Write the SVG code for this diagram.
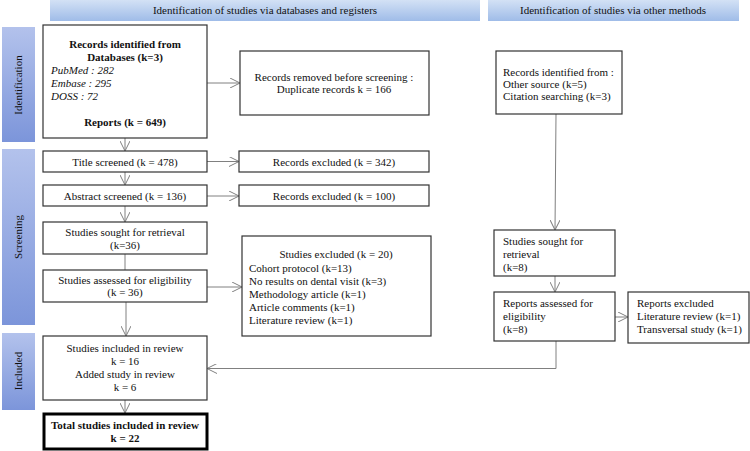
<svg xmlns="http://www.w3.org/2000/svg" width="750" height="451" viewBox="0 0 750 451">
<defs>
<linearGradient id="hdr" x1="0" y1="0" x2="0" y2="1">
<stop offset="0" stop-color="#d3e1f5"/>
<stop offset="1" stop-color="#9fbce8"/>
</linearGradient>
<linearGradient id="side" x1="0" y1="0" x2="0" y2="1">
<stop offset="0" stop-color="#b3c2ec"/>
<stop offset="1" stop-color="#7c95da"/>
</linearGradient>
<marker id="arr" viewBox="0 0 10 10" refX="10" refY="5" markerWidth="10" markerHeight="10" markerUnits="userSpaceOnUse" orient="auto">
<path d="M0,0 L10,5 L0,10" fill="none" stroke="#808080" stroke-width="1"/>
</marker>
<style>
text{font-family:"Liberation Serif","Times New Roman",serif;font-size:11px;fill:#111}
.c{text-anchor:middle}
.b{font-weight:bold}
.i{font-style:italic}
.box{fill:#fff;stroke:#333;stroke-width:1.2}
.thick{fill:#fff;stroke:#000;stroke-width:3}
.ln{fill:none;stroke:#808080;stroke-width:1}
.hd{fill:url(#hdr)}
.sd{fill:url(#side)}
</style>
</defs>
<rect width="750" height="451" fill="#fff"/>

<g id="header-left"><rect class="hd" x="50" y="0" width="430" height="21"/><text class="c" x="265" y="14">Identification of studies via databases and registers</text></g>
<g id="header-right"><rect class="hd" x="488" y="0" width="251" height="21"/><text class="c" x="613" y="14">Identification of studies via other methods</text></g>

<g id="side-identification"><rect class="sd" x="2" y="27" width="33" height="115"/><text class="c" transform="translate(22,85) rotate(-90)">Identification</text></g>
<g id="side-screening"><rect class="sd" x="2" y="149" width="33" height="176"/><text class="c" transform="translate(22,237) rotate(-90)">Screening</text></g>
<g id="side-included"><rect class="sd" x="2" y="333" width="33" height="77"/><text class="c" transform="translate(22,371) rotate(-90)">Included</text></g>

<g id="connectors">
<line class="ln" x1="207" y1="83" x2="240" y2="83" marker-end="url(#arr)"/>
<line class="ln" x1="125" y1="138" x2="125" y2="151" marker-end="url(#arr)"/>
<line class="ln" x1="207" y1="161.5" x2="239" y2="161.5" marker-end="url(#arr)"/>
<line class="ln" x1="125" y1="172" x2="125" y2="185" marker-end="url(#arr)"/>
<line class="ln" x1="207" y1="196" x2="239" y2="196" marker-end="url(#arr)"/>
<line class="ln" x1="125" y1="206" x2="125" y2="222" marker-end="url(#arr)"/>
<line class="ln" x1="125" y1="254" x2="125" y2="270"/>
<line class="ln" x1="207" y1="287" x2="242" y2="287" marker-end="url(#arr)"/>
<line class="ln" x1="126" y1="302" x2="126" y2="336" marker-end="url(#arr)"/>
<line class="ln" x1="125" y1="400" x2="125" y2="413" marker-end="url(#arr)"/>
<line class="ln" x1="556" y1="114" x2="555" y2="230" marker-end="url(#arr)"/>
<line class="ln" x1="555" y1="276" x2="555" y2="292" marker-end="url(#arr)"/>
<line class="ln" x1="615" y1="317" x2="628" y2="317" marker-end="url(#arr)"/>
<polyline class="ln" points="556,325 556,368.5 207,368.5" marker-end="url(#arr)"/>
</g>

<g id="records-identified"><rect class="box" x="43" y="25" width="164" height="113"/>
<text class="c b" x="125" y="48">Records identified from</text>
<text class="c b" x="125" y="61">Databases (k=3)</text>
<text class="i" x="51" y="74">PubMed : 282</text>
<text class="i" x="51" y="87">Embase : 295</text>
<text class="i" x="51" y="100">DOSS : 72</text>
<text class="c b" x="125" y="126">Reports (k = 649)</text></g>

<g id="records-removed"><rect class="box" x="240" y="51" width="189" height="64"/>
<text class="c" x="334" y="81">Records removed before screening :</text>
<text class="c" x="334" y="93">Duplicate records k = 166</text></g>

<g id="other-records"><rect class="box" x="496" y="51" width="126" height="63"/>
<text x="503" y="76">Records identified from :</text>
<text x="503" y="88">Other source (k=5)</text>
<text x="503" y="100">Citation searching (k=3)</text></g>

<g id="title-screened"><rect class="box" x="43" y="151" width="164" height="21"/><text class="c" x="125" y="165.5">Title screened (k = 478)</text></g>
<g id="excluded-342"><rect class="box" x="239" y="151" width="190" height="21"/><text class="c" x="334" y="165.5">Records excluded (k = 342)</text></g>
<g id="abstract-screened"><rect class="box" x="43" y="185" width="164" height="21"/><text class="c" x="125" y="200">Abstract screened (k = 136)</text></g>
<g id="excluded-100"><rect class="box" x="239" y="185" width="190" height="21"/><text class="c" x="334" y="200">Records excluded (k = 100)</text></g>

<g id="sought"><rect class="box" x="43" y="222" width="164" height="32"/>
<text class="c" x="125" y="236">Studies sought for retrieval</text>
<text class="c" x="125" y="249">(k=36)</text></g>

<g id="assessed"><rect class="box" x="43" y="270" width="164" height="32"/>
<text class="c" x="125" y="284">Studies assessed  for eligibility</text>
<text class="c" x="125" y="296">(k = 36)</text></g>

<g id="studies-excluded"><rect class="box" x="242" y="236" width="189" height="100"/>
<text class="c" x="336" y="258">Studies excluded (k = 20)</text>
<text x="249" y="271.5">Cohort protocol (k=13)</text>
<text x="249" y="285">No results on dental visit (k=3)</text>
<text x="249" y="298">Methodology article (k=1)</text>
<text x="249" y="311">Article comments (k=1)</text>
<text x="249" y="324">Literature review  (k=1)</text></g>

<g id="included"><rect class="box" x="43" y="336" width="164" height="64"/>
<text class="c" x="125" y="352">Studies included in review</text>
<text class="c" x="125" y="365">k = 16</text>
<text class="c" x="125" y="378">Added study in review</text>
<text class="c" x="125" y="391">k = 6</text></g>

<g id="total"><rect class="thick" x="44" y="414" width="163" height="35"/>
<text class="c b" x="125" y="429">Total studies included in review</text>
<text class="c b" x="125" y="442">k = 22</text></g>

<g id="other-sought"><rect class="box" x="494" y="230" width="121" height="46"/>
<text x="503" y="245">Studies sought for</text>
<text x="503" y="258">retrieval</text>
<text x="503" y="271">(k=8)</text></g>

<g id="other-assessed"><rect class="box" x="494" y="292" width="121" height="49"/>
<text x="503" y="307">Reports assessed  for</text>
<text x="503" y="320">eligibility</text>
<text x="503" y="333">(k=8)</text></g>

<g id="reports-excluded"><rect class="box" x="628" y="292" width="121" height="51"/>
<text x="637" y="307">Reports excluded</text>
<text x="637" y="320">Literature review (k=1)</text>
<text x="637" y="333">Transversal study (k=1)</text></g>
</svg>
